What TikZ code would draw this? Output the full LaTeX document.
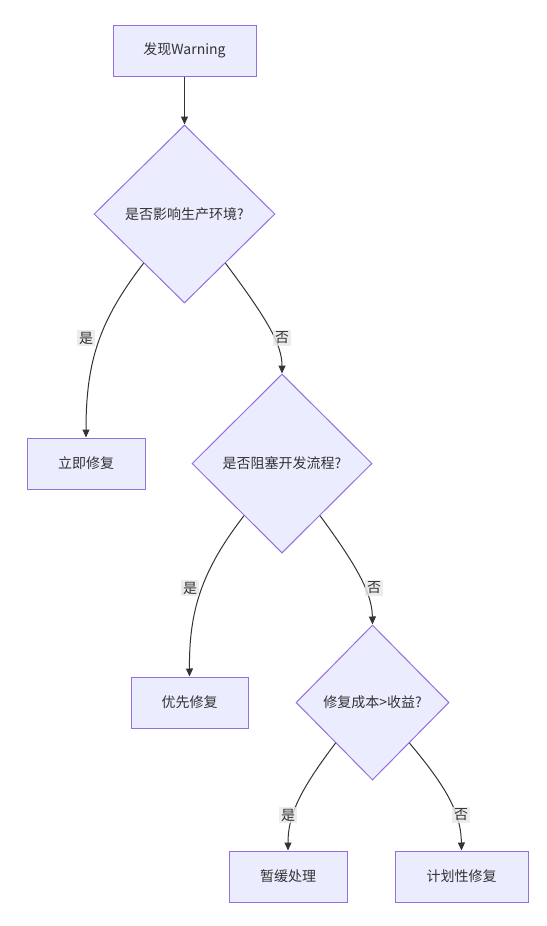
\documentclass[tikz,border=0pt]{standalone}
\usepackage{fontspec}
\setmainfont{Noto Sans CJK SC}
\usetikzlibrary{shapes.geometric,arrows.meta,calc}
\definecolor{nodefill}{HTML}{ECECFF}
\definecolor{nodestroke}{HTML}{9370DB}
\definecolor{edgecol}{HTML}{333333}
\definecolor{lblbg}{HTML}{E8E8E8}
\tikzset{
  every node/.style={font=\fontsize{14}{17}\selectfont, text=edgecol},
  box/.style={draw=nodestroke, fill=nodefill, line width=1pt, rectangle, minimum height=51pt, inner sep=0pt},
  decision/.style={draw=nodestroke, fill=nodefill, line width=1pt, diamond, inner sep=0pt},
  flow/.style={draw=edgecol, line width=1pt, -{Triangle[length=8pt,width=7pt]}},
  lbl/.style={fill=lblbg, fill opacity=0.8, text opacity=1, inner sep=2pt, font=\fontsize{14}{17}\selectfont}
}
\begin{document}
\begin{tikzpicture}[x=1pt,y=-1pt]
\path[use as bounding box, fill=white] (0,0) rectangle (546,926);

\node[box, minimum width=143pt] (start) at (184.5,50.5) {发现Warning};
\node[decision, minimum width=181pt, minimum height=178pt] (d1) at (184.5,214) {是否影响生产环境?};
\node[box, minimum width=118pt] (fix) at (86,463.5) {立即修复};
\node[decision, minimum width=180pt, minimum height=179pt] (d2) at (282,463.5) {是否阻塞开发流程?};
\node[box, minimum width=117pt] (prio) at (189.5,702.5) {优先修复};
\node[decision, minimum width=153pt, minimum height=155pt] (d3) at (372.5,702.5) {修复成本>收益?};
\node[box, minimum width=118pt] (defer) at (288,876.5) {暂缓处理};
\node[box, minimum width=133pt] (plan) at (461.5,876.5) {计划性修复};

\draw[flow] (start.south) -- (d1.north);

\coordinate (d1l) at ($(d1.west)!0.55!(d1.south)$);
\coordinate (d1r) at ($(d1.east)!0.55!(d1.south)$);
\draw[flow] (d1l) .. controls (100,320) and (86,360) .. (fix.north);
\draw[flow] (d1r) .. controls (268,320) and (282,345) .. (d2.north);

\coordinate (d2l) at ($(d2.west)!0.58!(d2.south)$);
\coordinate (d2r) at ($(d2.east)!0.58!(d2.south)$);
\draw[flow] (d2l) .. controls (202,570) and (189,610) .. (prio.north);
\draw[flow] (d2r) .. controls (360,570) and (372,595) .. (d3.north);

\coordinate (d3l) at ($(d3.west)!0.52!(d3.south)$);
\coordinate (d3r) at ($(d3.east)!0.52!(d3.south)$);
\draw[flow] (d3l) .. controls (300,790) and (288,815) .. (defer.north);
\draw[flow] (d3r) .. controls (449,790) and (461,815) .. (plan.north);

\node[lbl] (l1) at (86,338) {是};
\node[lbl] (l2) at (282,338) {否};
\node[lbl] (l3) at (190,588) {是};
\node[lbl] (l4) at (374,588) {否};
\node[lbl] (l5) at (288,815) {是};
\node[lbl] (l6) at (461,815) {否};
\end{tikzpicture}
\end{document}
